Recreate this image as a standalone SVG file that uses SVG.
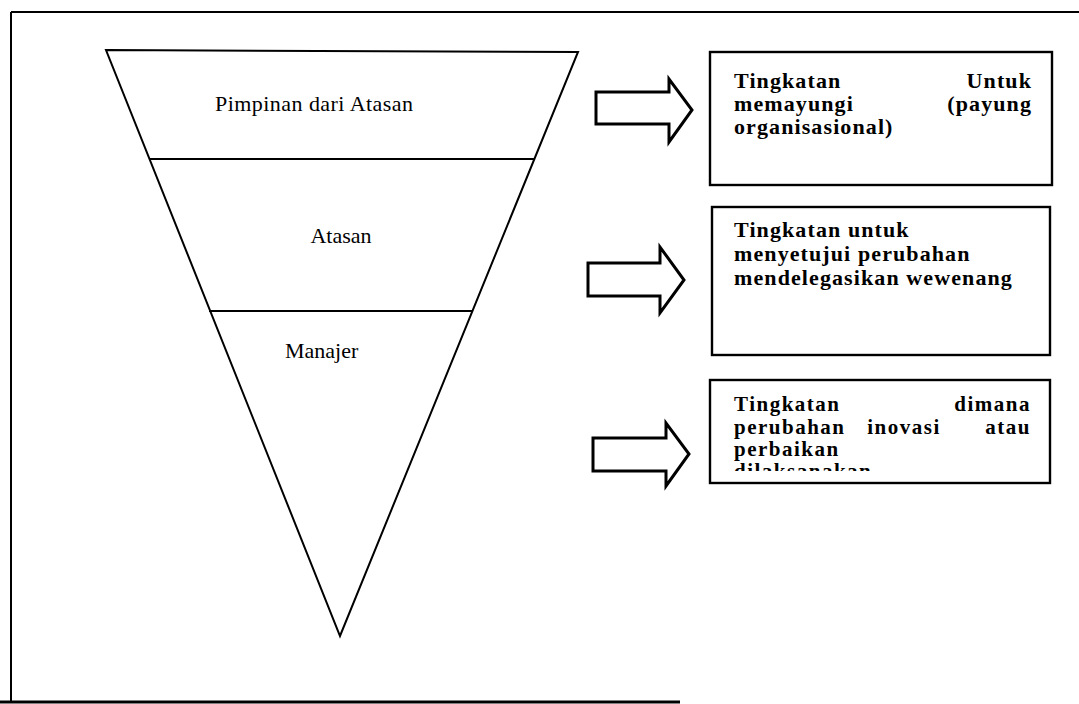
<svg xmlns="http://www.w3.org/2000/svg" width="1079" height="704" viewBox="0 0 1079 704">
  <style>
    .ln { fill: none; stroke: #000; stroke-width: 2; stroke-linejoin: miter; }
    .box { fill: #fff; stroke: #000; stroke-width: 2.4; }
    .arr { fill: #fff; stroke: #000; stroke-width: 3; stroke-linejoin: miter; }
    .lbl { font-family: "Liberation Serif", "Times New Roman", serif; font-size: 22px; fill: #000; }
    .bt { font-family: "Liberation Serif", "Times New Roman", serif; font-size: 22px; font-weight: bold; letter-spacing: 1.1px; fill: #000; }
    .bs { font-family: "Liberation Serif", "Times New Roman", serif; font-size: 21px; font-weight: bold; letter-spacing: 1.5px; fill: #000; }
  </style>
  <defs>
    <clipPath id="clip3">
      <rect x="712" y="382" width="336" height="89"/>
    </clipPath>
  </defs>
  <rect x="0" y="0" width="1079" height="704" fill="#fff"/>

  <g id="frame">
    <path class="ln" d="M11,12 H1079 M11,12 V702"/>
    <path d="M0,702 H680" stroke="#000" stroke-width="3" fill="none"/>
  </g>

  <g id="pyramid">
    <path class="ln" d="M106,50 L578,52 L340,636 Z"/>
    <g id="level-pimpinan">
      <text class="lbl" x="215" y="111" textLength="198" lengthAdjust="spacing">Pimpinan dari Atasan</text>
    </g>
    <g id="level-atasan">
      <path class="ln" d="M150,159 H534"/>
      <text class="lbl" x="341" y="243" text-anchor="middle">Atasan</text>
    </g>
    <g id="level-manajer">
      <path class="ln" d="M209,311 H472"/>
      <text class="lbl" x="285" y="358">Manajer</text>
    </g>
  </g>

  <g id="connectors">
    <path class="arr" d="M596,92 H669 V79 L692,110 L669,142 V124 H596 Z"/>
    <path class="arr" d="M588,263 H660 V247 L684,280 L660,313 V296 H588 Z"/>
    <path class="arr" d="M593,438 H666 V423 L689,454 L666,486 V471 H593 Z"/>
  </g>

  <g id="box-payung">
    <rect class="box" x="710" y="52" width="342" height="133"/>
    <text class="bt" x="734" y="88">Tingkatan</text>
    <text class="bt" x="1032" y="88" text-anchor="end">Untuk</text>
    <text class="bt" x="734" y="111">memayungi</text>
    <text class="bt" x="1032" y="111" text-anchor="end">(payung</text>
    <text class="bt" x="734" y="134">organisasional)</text>
  </g>

  <g id="box-menyetujui">
    <rect class="box" x="712" y="207" width="338" height="148"/>
    <text class="bt" x="734" y="237">Tingkatan untuk</text>
    <text class="bt" x="734" y="261">menyetujui perubahan</text>
    <text class="bt" x="734" y="285">mendelegasikan wewenang</text>
  </g>

  <g id="box-inovasi">
    <rect class="box" x="710" y="380" width="340" height="103"/>
    <text class="bs" x="734" y="411">Tingkatan</text>
    <text class="bs" x="1031" y="411" text-anchor="end">dimana</text>
    <text class="bs" x="734" y="434">perubahan</text>
    <text class="bs" x="904" y="434" text-anchor="middle">inovasi</text>
    <text class="bs" x="1031" y="434" text-anchor="end">atau</text>
    <text class="bs" x="734" y="456">perbaikan</text>
    <g clip-path="url(#clip3)">
      <text class="bs" x="734" y="478">dilaksanakan</text>
    </g>
  </g>
</svg>
